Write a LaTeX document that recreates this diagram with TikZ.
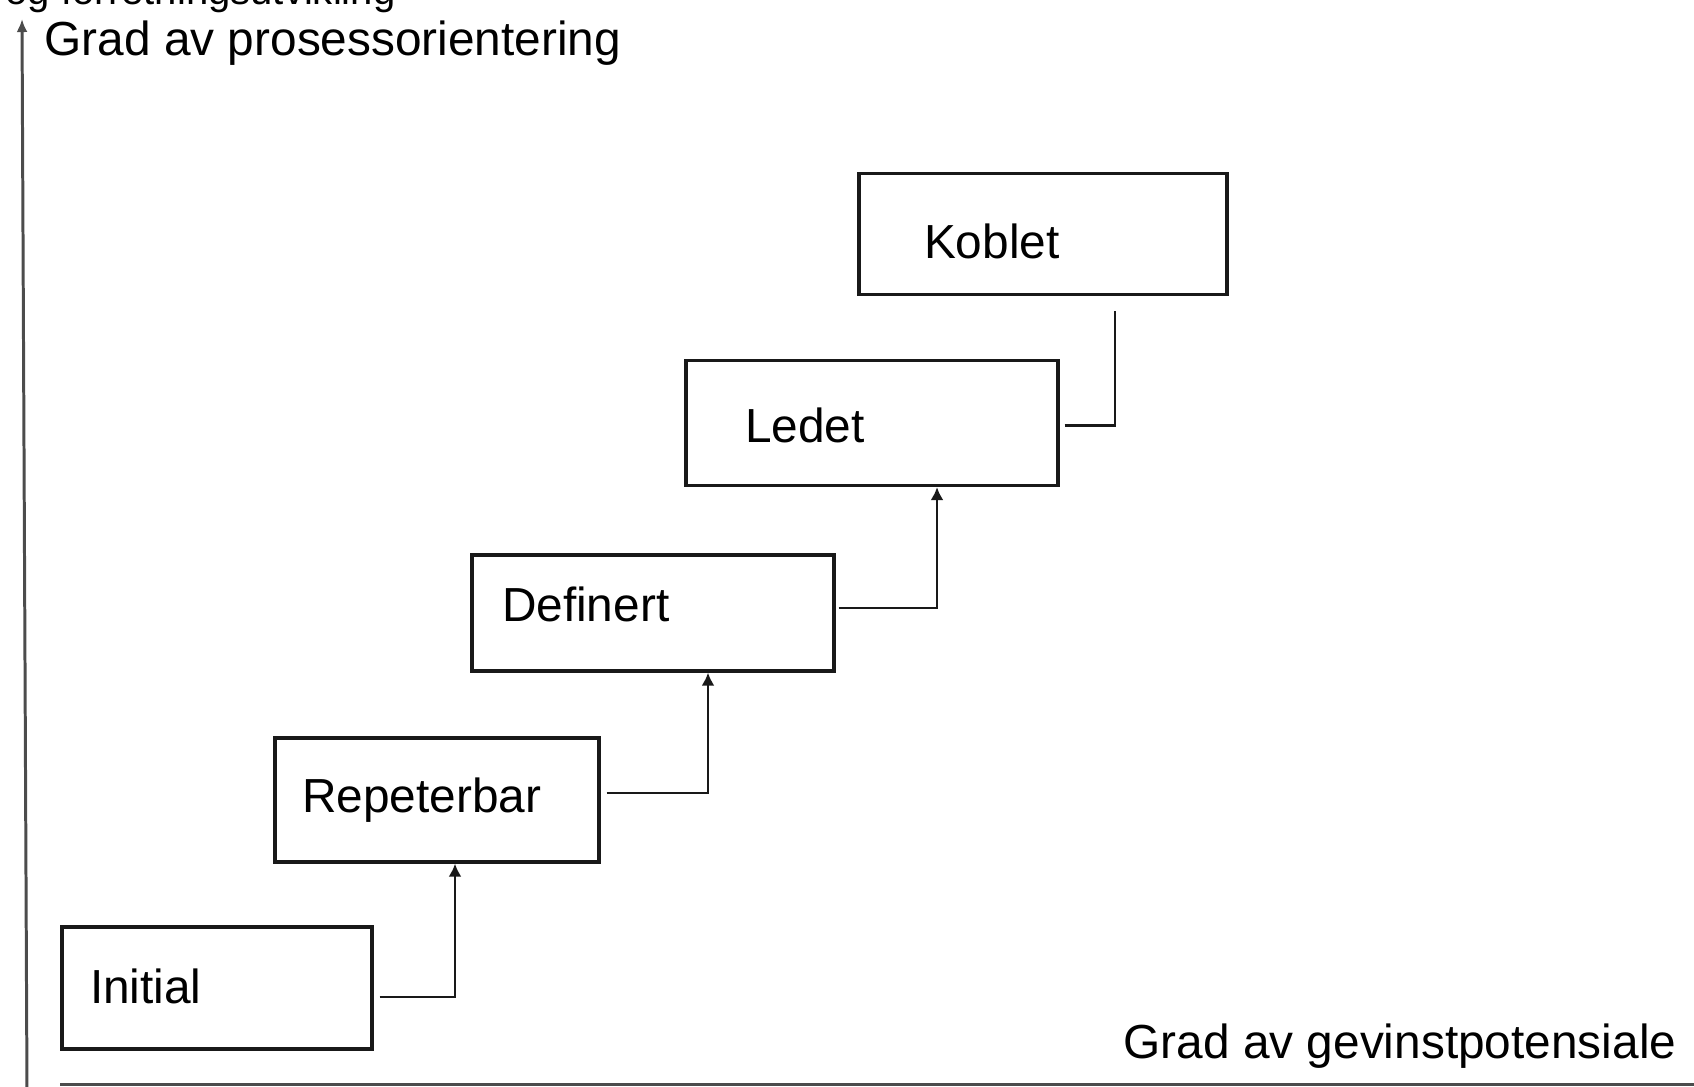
\documentclass[tikz,border=0pt]{standalone}
\usepackage{fontspec}
\setmainfont{Liberation Sans}
\usetikzlibrary{arrows.meta}

\begin{document}
\begin{tikzpicture}[x=0.1mm, y=-0.1mm,
                    every node/.style={font=\fontsize{13.6pt}{16pt}\selectfont, inner sep=0pt},
                    stage_style/.style={draw=black!90, line width=0.9pt, align=left},
                    link_style/.style={draw=black!90, line width=0.75pt},
                    axis_style/.style={draw=black!70, line width=0.85pt}]
                    \useasboundingbox (0,0) rectangle (1694,1086);
                    \node[anchor=base west, font=\fontsize{11.4pt}{13pt}\selectfont] (title) at (5,4) {og forretningsutvikling};
                    \coordinate (origin) at (27,1090);
                    \coordinate (ytop) at (22,19);
                    \draw[axis_style, -{Latex[length=1.3mm, width=1.1mm]}] (origin) -- (ytop);
                    \draw[axis_style] (60,1084) -- (1694,1084);
                    \node[anchor=west] (ylabel) at (44,43) {Grad av prosessorientering};
                    \node[anchor=east] (xlabel) at (1677,1046) {Grad av gevinstpotensiale};
                    \node[stage_style, inner xsep=2.8mm, text width=25.4mm, minimum height=12.2mm] (init) at (217,988) {\raisebox{0.2mm}[\height][\depth]{Initial}};
                    \node[stage_style, inner xsep=2.7mm, text width=27.0mm, minimum height=12.4mm] (rep) at (437,800) {Repeterbar};
                    \node[stage_style, inner xsep=3.0mm, text width=30.2mm, minimum height=11.6mm] (def) at (653,613) {\raisebox{0.85mm}[\height][\depth]{Definert}};
                    \node[stage_style, inner xsep=5.9mm, text width=25.4mm, minimum height=12.5mm] (led) at (872,423) {\raisebox{-0.2mm}[\height][\depth]{Ledet}};
                    \node[stage_style, inner xsep=6.5mm, text width=23.8mm, minimum height=12.1mm] (kob) at (1043,234) {\raisebox{-0.75mm}[\height][\depth]{Koblet}};
                    \draw[link_style, -{Latex[length=1.3mm, width=1.3mm]}] ([xshift=0.6mm, yshift=-0.9mm]init.east) -| ([xshift=1.8mm]rep.south);
                    \draw[link_style, -{Latex[length=1.3mm, width=1.3mm]}] ([xshift=0.6mm, yshift=0.7mm]rep.east) -| ([xshift=5.5mm]def.south);
                    \draw[link_style, -{Latex[length=1.3mm, width=1.3mm]}] ([xshift=0.3mm, yshift=0.5mm]def.east) -| ([xshift=6.5mm]led.south);
                    \draw[link_style] ([xshift=0.5mm, yshift=-0.25mm]led.east) -| ([xshift=7.2mm, yshift=-1.5mm]kob.south);
                \end{tikzpicture}
\end{document}
